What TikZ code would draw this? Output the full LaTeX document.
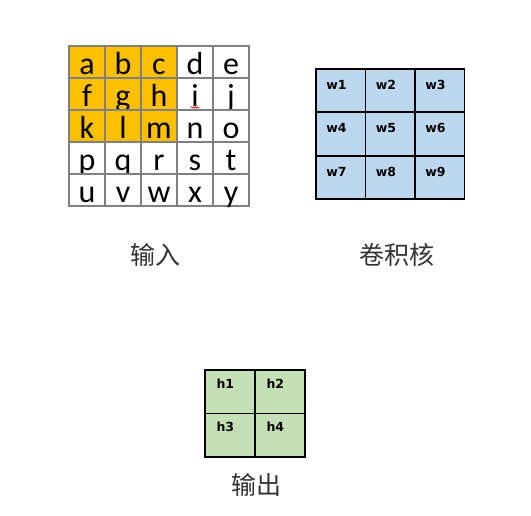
\documentclass[tikz,border=0pt]{standalone}
\usepackage{fontspec}
\setmainfont{Carlito}
\newfontfamily\cjkfont{Noto Sans CJK SC}
\newfontfamily\cellfont{DejaVu Sans}
\usetikzlibrary{decorations.pathmorphing}
\definecolor{inorange}{HTML}{FFC000}
\definecolor{ingray}{HTML}{808080}
\definecolor{kernblue}{HTML}{BDD7EE}
\definecolor{outgreen}{HTML}{C5E0B4}
\tikzset{
	incell/.style   = {draw=ingray, line width=2pt, fill=white, rectangle, inner sep=0pt, outer sep=0pt,
	                   minimum width=36pt, minimum height=32pt, text height=25pt, text depth=0pt,
	                   font=\fontsize{32}{36}\selectfont, node distance=36pt},
	hot/.style      = {fill=inorange},
	kerncell/.style = {draw=black, line width=1.8pt, fill=kernblue, rectangle, inner sep=0pt, outer sep=0pt,
	                   minimum width=49.5pt, minimum height=43.3pt, text width=29pt, align=left,
	                   text height=10pt, text depth=12pt, font=\cellfont\bfseries\fontsize{12.5}{14}\selectfont,
	                   node distance=49.5pt},
	outcell/.style  = {draw=black, line width=1.8pt, fill=outgreen, rectangle, inner sep=0pt, outer sep=0pt,
	                   minimum width=50pt, minimum height=43.5pt, text width=27pt, align=left,
	                   text height=8pt, text depth=14.6pt, font=\cellfont\bfseries\fontsize{12.5}{14}\selectfont,
	                   node distance=50pt},
	caption/.style  = {font=\cjkfont\fontsize{25}{30}\selectfont, text=black!80, inner sep=0pt},
	squiggle/.style = {draw=red, line width=0.5pt, decorate, decoration={zigzag, amplitude=0.7pt, segment length=2pt}},
}

\begin{document}
\begin{tikzpicture}[x=1pt, y=-1pt]
	\useasboundingbox (0,0) rectangle (531,516);

	% Draw the input grid
	\draw
	node[incell, hot                               ] (a) at (87,62) {a}
	node[incell, hot, right of = a                 ] (b) {b}
	node[incell, hot, right of = b                 ] (c) {c}
	node[incell,      right of = c                 ] (d) {d}
	node[incell,      right of = d                 ] (e) {e}
	node[incell, hot, below of = a, node distance = 32pt] (f) {f}
	node[incell, hot, right of = f                 ] (g) {g}
	node[incell, hot, right of = g                 ] (h) {h}
	node[incell,      right of = h                 ] (i) {i}
	node[incell,      right of = i                 ] (j) {j}
	node[incell, hot, below of = f, node distance = 32pt] (k) {k}
	node[incell, hot, right of = k                 ] (l) {l}
	node[incell, hot, right of = l                 ] (m) {m}
	node[incell,      right of = m                 ] (n) {n}
	node[incell,      right of = n                 ] (o) {o}
	node[incell,      below of = k, node distance = 32pt] (p) {p}
	node[incell,      right of = p                 ] (q) {q}
	node[incell,      right of = q                 ] (r) {r}
	node[incell,      right of = r                 ] (s) {s}
	node[incell,      right of = s                 ] (t) {t}
	node[incell,      below of = p, node distance = 32pt] (u) {u}
	node[incell,      right of = u                 ] (v) {v}
	node[incell,      right of = v                 ] (w) {w}
	node[incell,      right of = w                 ] (x) {x}
	node[incell,      right of = x                 ] (y) {y};

	% Spelling mark under i
	\draw[squiggle] ([xshift=-4pt, yshift=2.5pt]i.south) -- ([xshift=4pt, yshift=2.5pt]i.south);

	% Draw the kernel grid
	\draw
	node[kerncell                   ] (w1) at (340.75,90.7) {w1}
	node[kerncell, right of = w1    ] (w2) {w2}
	node[kerncell, right of = w2    ] (w3) {w3}
	node[kerncell, below of = w1, node distance = 43.3pt] (w4) {w4}
	node[kerncell, right of = w4    ] (w5) {w5}
	node[kerncell, right of = w5    ] (w6) {w6}
	node[kerncell, below of = w4, node distance = 43.3pt] (w7) {w7}
	node[kerncell, right of = w7    ] (w8) {w8}
	node[kerncell, right of = w8    ] (w9) {w9};

	% Draw the output grid
	\draw
	node[outcell                    ] (h1) at (230,391.7) {h1}
	node[outcell,  right of = h1    ] (h2) {h2}
	node[outcell,  below of = h1, node distance = 43.5pt] (h3) {h3}
	node[outcell,  right of = h3    ] (h4) {h4};

	% Captions
	\node[caption, below of = w,  node distance = 65pt,   xshift = -4pt] (incaption)   {输入};
	\node[caption, below of = w8, node distance = 77.7pt, xshift = 7pt ] (kerncaption) {卷积核};
	\node[caption, below of = h3, node distance = 50pt,   xshift = 26pt] (outcaption)  {输出};
\end{tikzpicture}
\end{document}
